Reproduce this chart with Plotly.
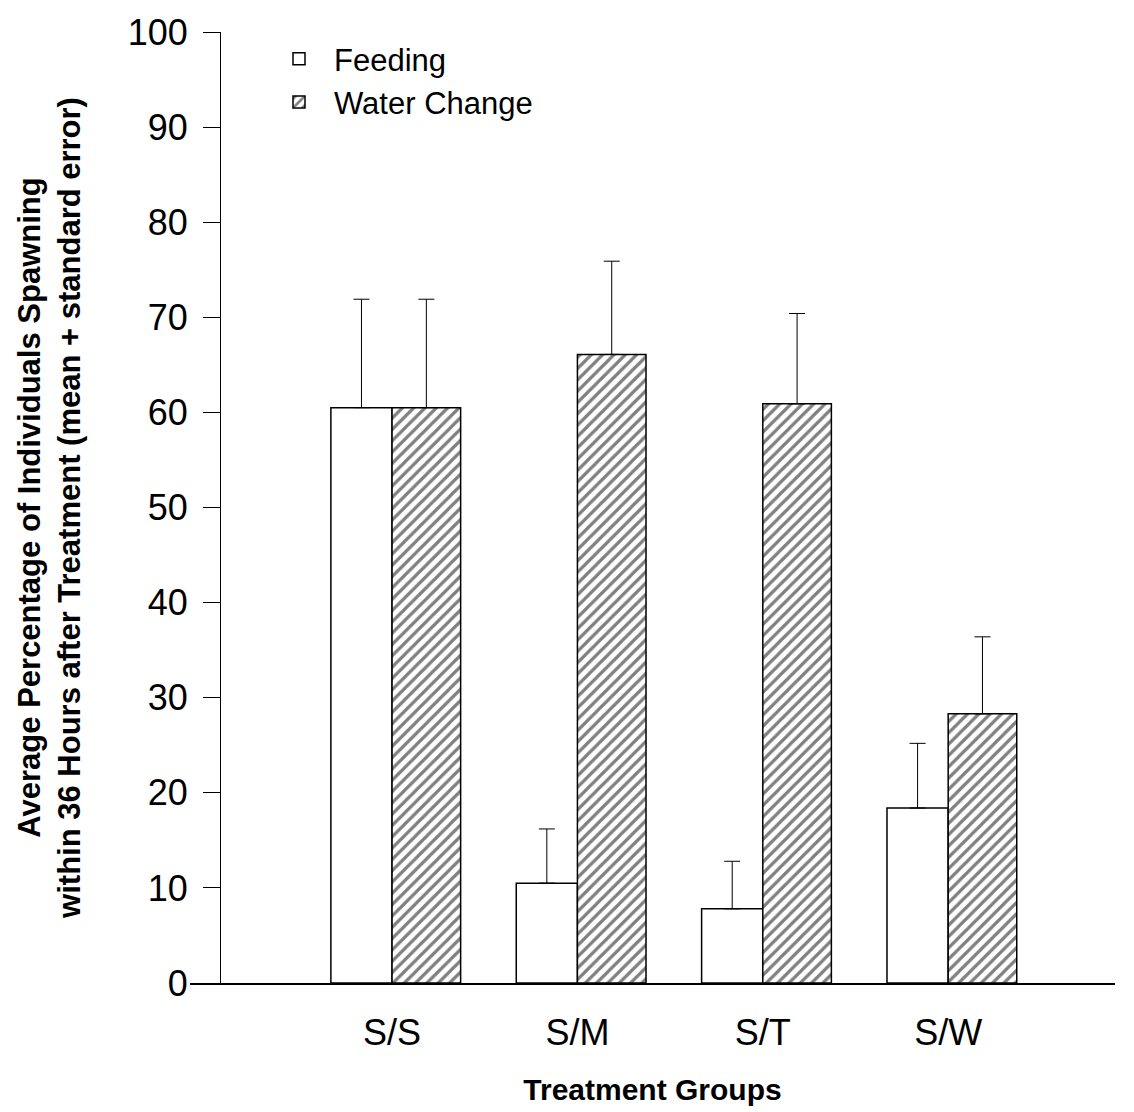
import plotly.graph_objects as go

groups = ["S/S", "S/M", "S/T", "S/W"]
group_pos = [1, 2, 3, 4]
feeding_mean = [60.5, 10.5, 7.8, 18.4]
feeding_err = [11.4, 5.7, 5.0, 6.8]
water_mean = [60.5, 66.1, 60.9, 28.3]
water_err = [11.4, 9.8, 9.5, 8.1]
y_ticks = [0, 10, 20, 30, 40, 50, 60, 70, 80, 90, 100]

font_main = "Liberation Sans, Arial, sans-serif"
font_narrow = "Liberation Sans Narrow, Arial Narrow, Liberation Sans, Arial, sans-serif"

fig = go.Figure()
fig.add_trace(go.Bar(
    name="Feeding", x=group_pos, y=feeding_mean,
    width=0.33, offset=-0.33,
    marker=dict(color="white", line=dict(color="black", width=1.5)),
    error_y=dict(type="data", symmetric=False, array=feeding_err,
                 arrayminus=[0] * len(feeding_err), color="black",
                 thickness=1, width=8),
))
fig.add_trace(go.Bar(
    name="Water Change", x=group_pos, y=water_mean,
    width=0.37, offset=0,
    marker=dict(color="white", line=dict(color="black", width=1.5),
                pattern=dict(shape="/", fgcolor="black", bgcolor="white",
                             size=8, solidity=0.4)),
    error_y=dict(type="data", symmetric=False, array=water_err,
                 arrayminus=[0] * len(water_err), color="black",
                 thickness=1, width=8),
))

fig.update_layout(
    width=1134, height=1112,
    paper_bgcolor="white", plot_bgcolor="white",
    margin=dict(l=182, r=27, t=24, b=137, autoexpand=False),
    barmode="overlay",
    showlegend=True,
    legend=dict(x=0.08, y=1.0, xanchor="left", yanchor="top",
                font=dict(family=font_main, size=31, color="black"),
                bgcolor="rgba(0,0,0,0)", itemwidth=60, tracegroupgap=0),
    font=dict(family=font_main, color="black"),
)
fig.update_xaxes(
    range=[-0.09, 4.90], tickvals=group_pos, ticktext=groups,
    showline=True, linecolor="black", linewidth=1.5,
    showgrid=False, zeroline=False, ticks="",
    ticklabelstandoff=17, automargin=False,
    tickfont=dict(family=font_main, size=36, color="black"),
    title=dict(text="<b>Treatment Groups</b>", standoff=27,
               font=dict(family=font_narrow, size=30, color="black")),
)
fig.update_yaxes(
    range=[0, 100], tickvals=y_ticks,
    anchor="free", position=0.0324,
    showline=True, linecolor="black", linewidth=1,
    showgrid=False, zeroline=False,
    ticks="outside", ticklen=17, tickwidth=1, tickcolor="black",
    ticklabelstandoff=8, automargin=False,
    tickfont=dict(family=font_main, size=36, color="black"),
    title=dict(text="<b>Average Percentage of Individuals Spawning<br>within 36 Hours after Treatment (mean + standard error)</b>",
               standoff=36,
               font=dict(family=font_narrow, size=31, color="black")),
)

fig.write_html("out.html")
